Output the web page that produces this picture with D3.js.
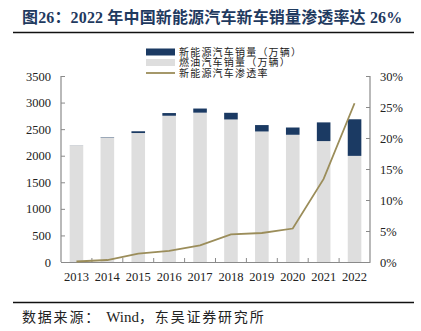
<!DOCTYPE html>
<html>
<head>
<meta charset="utf-8">
<script src="https://cdn.jsdelivr.net/npm/d3@7"></script>
<style>
    body { margin: 0; background: #fff; }
    svg { display: block; }
    text { font-family: "Liberation Serif", "Noto Sans CJK SC", serif; }
    .cjk { font-family: "Liberation Serif", "Noto Sans CJK SC", sans-serif; }
</style>
</head>
<body>
<svg id="chart_svg" width="421" height="331"></svg>
<script>
// yearly sales (万辆) and NEV share
const years = ['2013', '2014', '2015', '2016', '2017', '2018', '2019', '2020', '2021', '2022'];
const nevSales = [1.8, 7.5, 33.1, 50.7, 77.7, 125.6, 120.6, 136.7, 352.1, 688.7];
const fuelSales = [2196, 2342, 2427, 2752, 2810, 2682, 2456, 2394, 2275, 1997];
const nevShare = [0.08, 0.32, 1.35, 1.81, 2.69, 4.47, 4.68, 5.40, 13.4, 25.6];
const leftTicks = [0, 500, 1000, 1500, 2000, 2500, 3000, 3500];
const rightTicks = [0, 5, 10, 15, 20, 25, 30];
const legendNames = ['新能源汽车销量（万辆）', '燃油汽车销量（万辆）', '新能源汽车渗透率'];

const svg = d3.select('#chart_svg');

const plot = { left: 61, right: 370, top: 76, bottom: 262 };
const navy = '#1b3a63';
const grey = '#dedede';
const olive = '#9b8d5a';
const axisGrey = '#8a8a8a';

// title and rules
svg.append('text')
    .attr('x', 22)
    .attr('y', 23)
    .attr('class', 'cjk')
    .style('font-size', '16px')
    .style('font-weight', 'bold')
    .style('letter-spacing', '0.15px')
    .attr('fill', '#1f3a5f')
    .text('图26：2022 年中国新能源汽车新车销量渗透率达 26%');

svg.append('line')
    .attr('x1', 13).attr('x2', 414)
    .attr('y1', 32.5).attr('y2', 32.5)
    .attr('stroke', '#111').attr('stroke-width', 1.6);

svg.append('line')
    .attr('x1', 13).attr('x2', 414)
    .attr('y1', 302.5).attr('y2', 302.5)
    .attr('stroke', '#111').attr('stroke-width', 1.6);

// source line: CJK spaced out, "Wind" set tight
let source = svg.append('text')
    .attr('x', 22)
    .attr('y', 322)
    .attr('class', 'cjk')
    .style('font-size', '14px')
    .attr('fill', '#222');
source.append('tspan').style('letter-spacing', '1.8px').text('数据来源： ');
source.append('tspan').style('letter-spacing', '0px').style('font-size', '15px').text('Wind');
source.append('tspan').style('letter-spacing', '1.8px').text('，东吴证券研究所');

// scales
const x = d3.scaleBand()
    .domain(years)
    .range([plot.left, plot.right])
    .paddingInner(0.56)
    .paddingOuter(0.28);

const xBand = d3.scaleBand()
    .domain(years)
    .range([plot.left, plot.right]);

const yLeft = d3.scaleLinear()
    .domain([0, 3500])
    .range([plot.bottom, plot.top]);

const yRight = d3.scaleLinear()
    .domain([0, 30])
    .range([plot.bottom, plot.top]);

// stacked bars: fuel at bottom, NEV on top
const rows = years.map((yr, i) => ({ year: yr, fuel: fuelSales[i], nev: nevSales[i] }));
const stacked = d3.stack().keys(['fuel', 'nev'])(rows);
const barColors = { fuel: grey, nev: navy };

const bars = svg.append('g');
stacked.forEach(layer => {
    bars.selectAll('.bar-' + layer.key)
        .data(layer)
        .enter().append('rect')
        .attr('class', 'bar-' + layer.key)
        .attr('x', d => x(d.data.year))
        .attr('width', x.bandwidth())
        .attr('y', d => yLeft(d[1]))
        .attr('height', d => yLeft(d[0]) - yLeft(d[1]))
        .attr('fill', barColors[layer.key]);
});

// axes
const leftAxis = svg.append('g')
    .attr('transform', 'translate(' + plot.left + ',0)')
    .call(d3.axisLeft(yLeft).tickValues(leftTicks).tickSize(-4).tickPadding(10)
        .tickFormat(d3.format('d')));

const rightAxis = svg.append('g')
    .attr('transform', 'translate(' + plot.right + ',0)')
    .call(d3.axisRight(yRight).tickValues(rightTicks).tickSize(-4).tickPadding(10)
        .tickFormat(d => d + '%'));

const bottomAxis = svg.append('g')
    .attr('transform', 'translate(0,' + plot.bottom + ')')
    .call(d3.axisBottom(xBand).tickSize(0).tickPadding(10));

// small upward ticks between years
svg.append('g').selectAll('line')
    .data(years.slice(1))
    .enter().append('line')
    .attr('x1', d => xBand(d))
    .attr('x2', d => xBand(d))
    .attr('y1', plot.bottom)
    .attr('y2', plot.bottom - 4)
    .attr('stroke', axisGrey);

[leftAxis, rightAxis, bottomAxis].forEach(g => {
    g.select('.domain').attr('stroke', axisGrey).attr('stroke-width', 1.2);
    g.selectAll('.tick line').attr('stroke', axisGrey);
    g.selectAll('.tick text')
        .attr('fill', '#222')
        .style('font-size', '12.5px')
        .style('font-family', '"Liberation Serif", serif');
});
leftAxis.select('.domain').attr('d', 'M0,' + plot.top + 'V' + plot.bottom);
rightAxis.select('.domain').attr('d', 'M0,' + plot.top + 'V' + plot.bottom);

// penetration line
const line = d3.line()
    .x((d, i) => xBand(years[i]) + xBand.bandwidth() / 2)
    .y(d => yRight(d));

svg.append('path')
    .datum(nevShare)
    .attr('d', line)
    .attr('fill', 'none')
    .attr('stroke', olive)
    .attr('stroke-width', 1.8);

// legend
const legend = svg.append('g').attr('transform', 'translate(146,52)');
legendNames.forEach((name, i) => {
    let row = legend.append('g').attr('transform', 'translate(0,' + i * 10.5 + ')');
    if (i < 2) {
        row.append('rect')
            .attr('x', 0).attr('y', -3.5)
            .attr('width', 29).attr('height', 7)
            .attr('fill', i == 0 ? navy : grey);
    } else {
        row.append('line')
            .attr('x1', 0).attr('x2', 29)
            .attr('y1', 0).attr('y2', 0)
            .attr('stroke', olive).attr('stroke-width', 1.8);
    }
    row.append('text')
        .attr('x', 33)
        .attr('y', 0)
        .attr('dominant-baseline', 'central')
        .attr('class', 'cjk')
        .style('font-size', '10px')
        .style('letter-spacing', '1.2px')
        .attr('fill', '#222')
        .text(name);
});
</script>
</body>
</html>
